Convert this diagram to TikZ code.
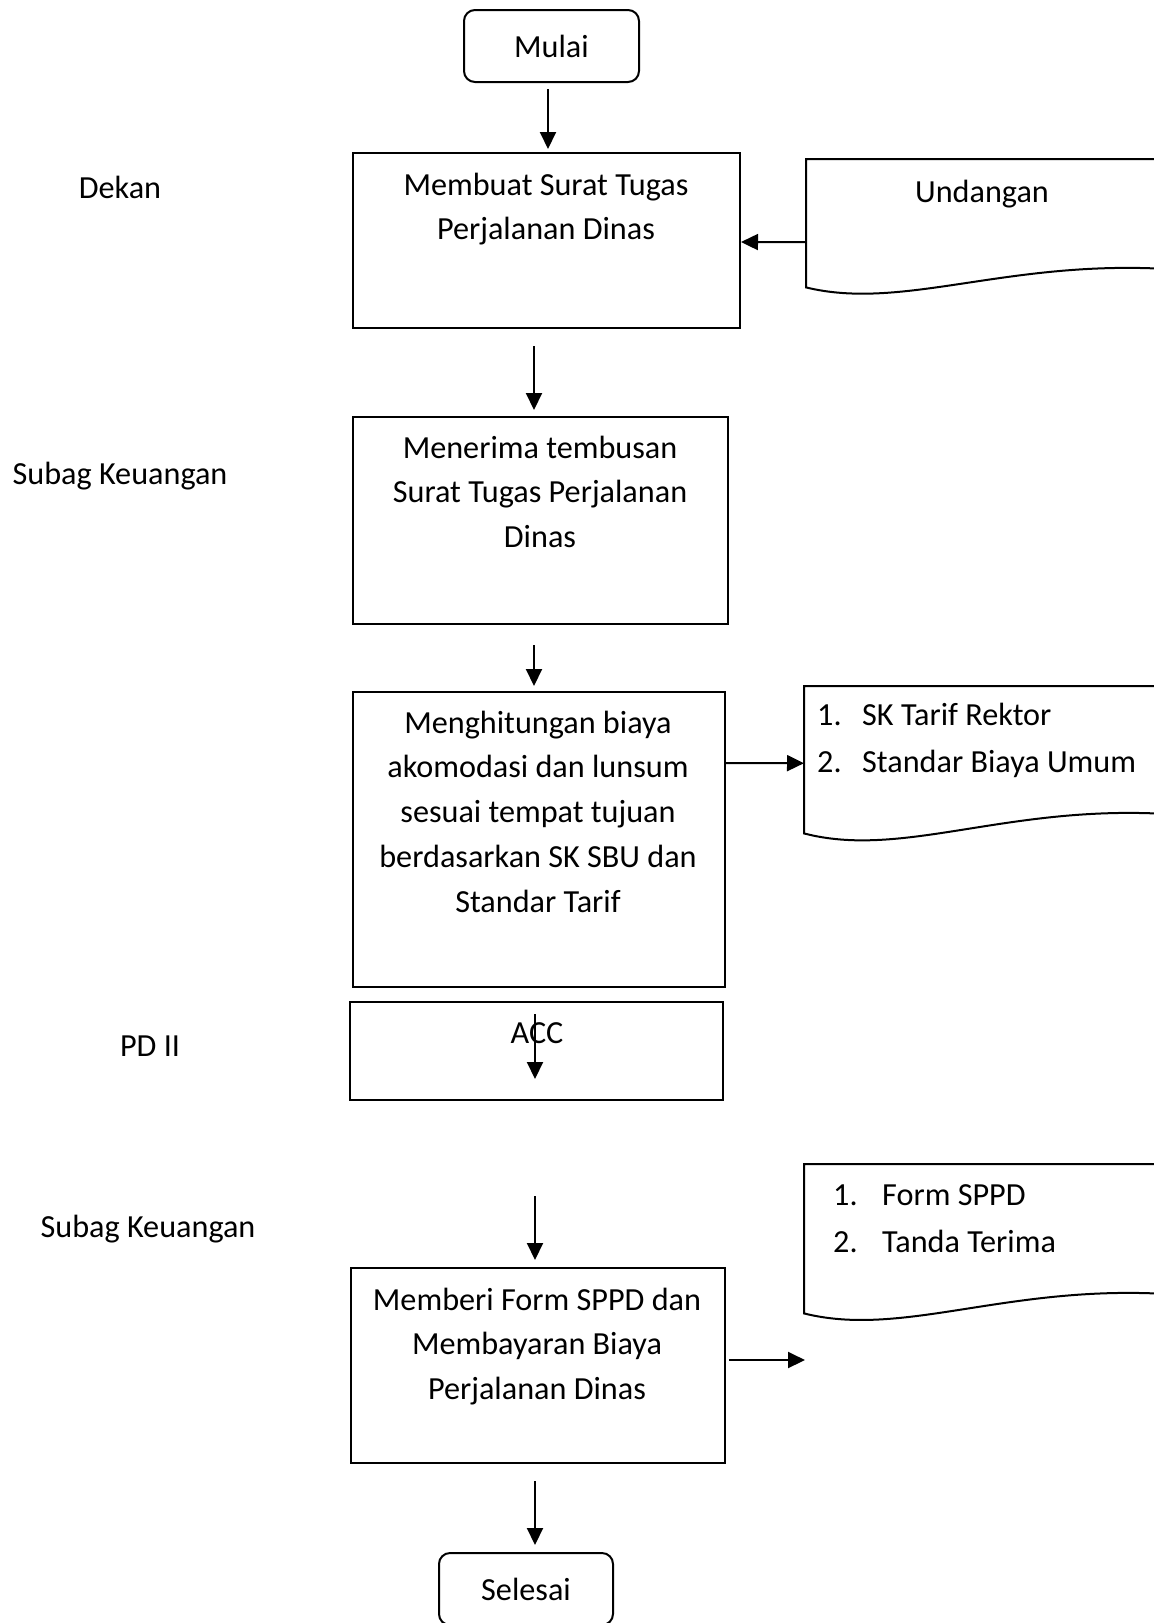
\documentclass[tikz,border=0pt]{standalone}
\usepackage{fontspec}
\setmainfont{Carlito}
\usetikzlibrary{arrows.meta}
\begin{document}
\begin{tikzpicture}[x=1pt,y=-1pt,
  every node/.style={font=\fontsize{32.2}{44.8}\selectfont},
  box/.style={draw, line width=2pt, inner sep=0pt},
  term/.style={box, rounded corners=11pt},
  arr/.style={line width=2pt, -{Triangle[length=17pt,width=16pt]}},
  docline/.style={line width=2pt},
  txt/.style={anchor=base, align=center, inner sep=0pt},
  item/.style={anchor=base west, inner sep=0pt},
  lane/.style={anchor=base, inner sep=0pt},
]
\useasboundingbox (0,0) rectangle (1154,1623);

% lane labels
\node[lane] (l1) at (120,198) {Dekan};
\node[lane] (l2) at (120,484) {Subag Keuangan};
\node[lane] (l3) at (150,1056) {PD II};
\node[lane] (l4) at (148,1237) {Subag Keuangan};

% terminators
\node[term, minimum width=175pt, minimum height=72pt] (mulai) at (551.5,46) {Mulai};
\node[term, minimum width=174pt, minimum height=72pt] (selesai) at (526,1589) {Selesai};

% process boxes
\node[box, minimum width=387pt, minimum height=175pt] (b1) at (546.5,240.5) {};
\node[box, minimum width=375pt, minimum height=207pt] (b2) at (540.5,520.5) {};
\node[box, minimum width=372pt, minimum height=295pt] (b3) at (539,839.5) {};
\node[box, minimum width=373pt, minimum height=98pt]  (acc) at (536.5,1051) {};
\node[box, minimum width=374pt, minimum height=195pt] (b5) at (538,1365.5) {};

% box texts (placed by the baseline of their last line)
\node[txt] (t1) at (546,239.8) {Membuat Surat Tugas\\Perjalanan Dinas};
\node[txt] (t2) at (540,547.6) {Menerima tembusan\\Surat Tugas Perjalanan\\Dinas};
\node[txt] (t3) at (538,912.2) {Menghitungan biaya\\akomodasi dan lunsum\\sesuai tempat tujuan\\berdasarkan SK SBU dan\\Standar Tarif};
\node[txt] (t4) at (537,1043) {ACC};
\node[txt] (t5) at (537,1399.6) {Memberi Form SPPD dan\\Membayaran Biaya\\Perjalanan Dinas};

% document shapes (right side runs off the page)
\node[inner sep=0pt, minimum width=348pt, minimum height=128pt, anchor=north west] (doc1) at (806,159) {};
\draw[docline] (doc1.north east) -- (doc1.north west) -- (doc1.south west)
  .. controls +(94,23) and +(-154,-6) .. ([yshift=19pt]doc1.south east);
\node[anchor=base, inner sep=0pt] (u1) at (982,202) {Undangan};

\node[inner sep=0pt, minimum width=350pt, minimum height=147pt, anchor=north west] (doc2) at (804,686) {};
\draw[docline] (doc2.north east) -- (doc2.north west) -- (doc2.south west)
  .. controls +(96,25) and +(-154,-6) .. ([yshift=20pt]doc2.south east);
\node[item] (d2n1) at (817,725) {1.};
\node[item] (d2i1) at (862,725) {SK Tarif Rektor};
\node[item] (d2n2) at (817,772) {2.};
\node[item] (d2i2) at (862,772) {Standar Biaya Umum};

\node[inner sep=0pt, minimum width=350pt, minimum height=149pt, anchor=north west] (doc3) at (804,1164) {};
\draw[docline] (doc3.north east) -- (doc3.north west) -- (doc3.south west)
  .. controls +(96,24) and +(-154,-6) .. ([yshift=20pt]doc3.south east);
\node[item] (d3n1) at (833,1205) {1.};
\node[item] (d3i1) at (882,1205) {Form SPPD};
\node[item] (d3n2) at (833,1252) {2.};
\node[item] (d3i2) at (882,1252) {Tanda Terima};

% connectors
\draw[arr] ([xshift=-3.5pt,yshift=-6pt]mulai.south) -- ([xshift=1.5pt,yshift=3pt]b1.north);
\draw[arr] ([yshift=-19pt]doc1.west) -- ([yshift=-1.5pt]b1.east);
\draw[arr] ([xshift=-12.5pt,yshift=-17pt]b1.south) -- ([xshift=-6.5pt,yshift=6pt]b2.north);
\draw[arr] ([xshift=-6.5pt,yshift=-20pt]b2.south) -- ([xshift=-5pt,yshift=5pt]b3.north);
\draw[arr] ([yshift=76.5pt]b3.east) -- ([yshift=-3.5pt]doc2.west);
\draw[arr] ([xshift=-1.5pt,yshift=-13pt]acc.north) -- ([xshift=-1.5pt,yshift=22pt]acc.south);
\draw[arr] ([xshift=-1.5pt,yshift=-95pt]acc.south) -- ([xshift=-3pt,yshift=7pt]b5.north);
\coordinate (out5) at (805,1360);
\draw[arr] ([xshift=3pt,yshift=5.5pt]b5.east) -- (out5);
\draw[arr] ([xshift=-3pt,yshift=-17pt]b5.south) -- ([xshift=9pt,yshift=7pt]selesai.north);
\end{tikzpicture}
\end{document}
